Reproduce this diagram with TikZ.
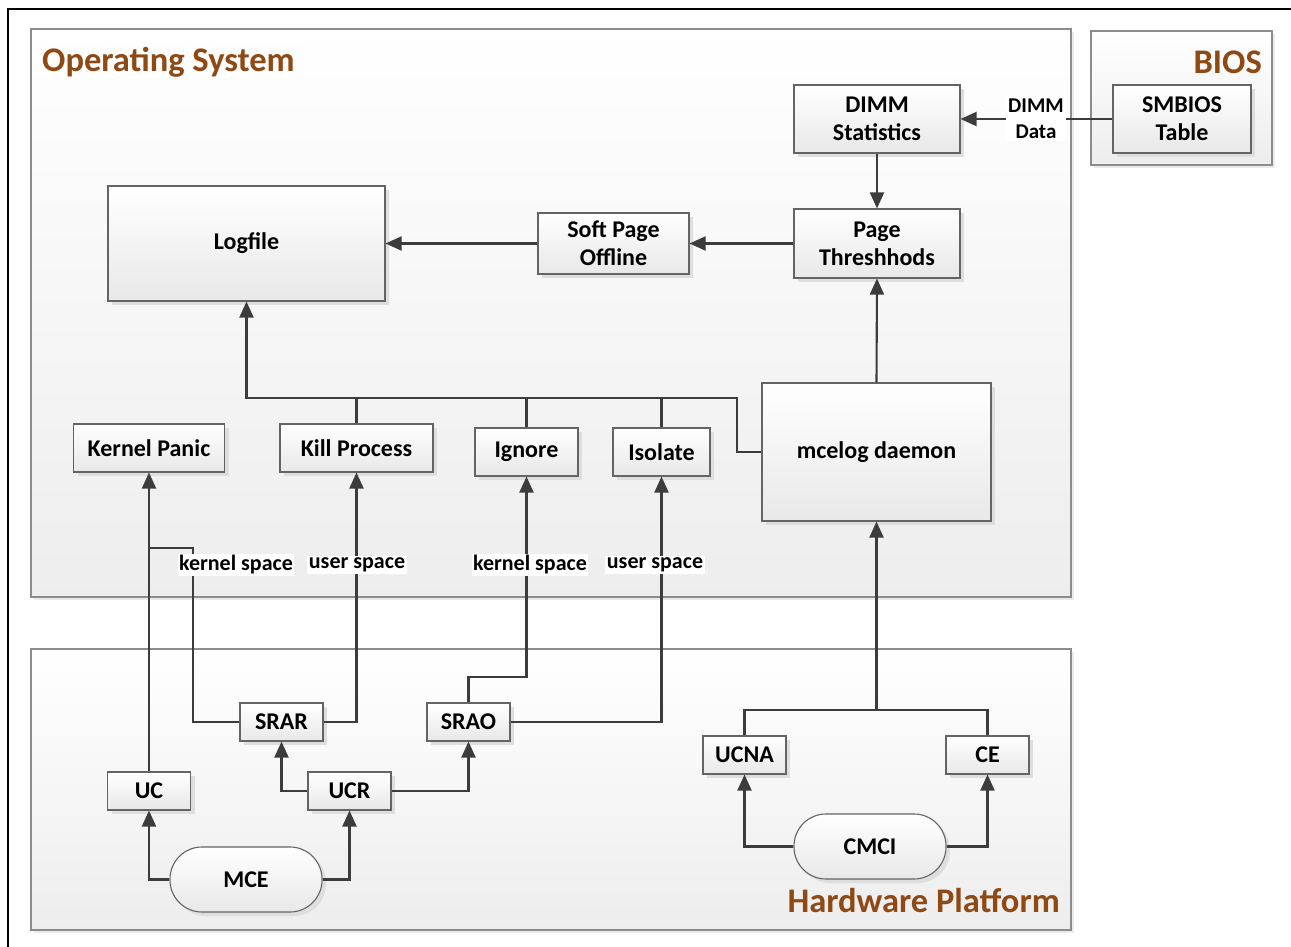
\documentclass[tikz,border=0pt]{standalone}
\usepackage{fontspec}
\setmainfont{Carlito}
\usetikzlibrary{arrows.meta,shadows}
\definecolor{ttl}{RGB}{143,73,20}
\definecolor{ln}{RGB}{60,60,60}
\definecolor{bd}{RGB}{100,100,100}
\definecolor{cbd}{RGB}{140,140,140}
\begin{document}
\begin{tikzpicture}[x=1pt,y=-1pt,
  box/.style={draw=bd, line width=1.1pt, top color=white, bottom color=black!9,
    inner sep=0pt, align=center, font=\fontsize{24}{28}\selectfont\bfseries,
    drop shadow={shadow xshift=4pt, shadow yshift=-4pt, fill=black!13, opacity=1}},
  pill/.style={box, rounded corners=32pt},
  container/.style={draw=cbd, line width=1.3pt, top color=white, bottom color=black!7,
    inner sep=0pt, drop shadow={shadow xshift=3pt, shadow yshift=-3pt, fill=black!8, opacity=1}},
  ttlfont/.style={text=ttl, font=\fontsize{34.5}{40}\selectfont\bfseries, inner sep=0pt},
  lbl/.style={fill=white, inner sep=1.5pt, font=\fontsize{22}{26}\selectfont\bfseries},
  dlbl/.style={fill=white, inner sep=2pt, align=center, font=\fontsize{21}{26}\selectfont\bfseries},
  conn/.style={draw=ln, line width=2.1pt},
  arr/.style={conn, -{Triangle[length=16pt,width=14pt]}},
]
\useasboundingbox (0,0) rectangle (1291,947);
\draw[black, line width=1.3pt] (8,947) -- (8,9) -- (1291,9);

% containers
\node[container, minimum width=1040, minimum height=568] (os) at (551,313) {};
\node[container, minimum width=181, minimum height=134] (bios) at (1181.5,98) {};
\node[container, minimum width=1040, minimum height=281] (hw) at (551,789.5) {};
\node[ttlfont, anchor=west] (ostitle) at (42,62) {Operating System};
\node[ttlfont, anchor=east] (biostitle) at (1262,62) {BIOS};
\node[ttlfont, anchor=east] (hwtitle) at (1060,901) {Hardware Platform};

% nodes
\node[box, minimum width=166, minimum height=68] (dimm) at (877,119) {DIMM\\Statistics};
\node[box, minimum width=138, minimum height=68] (smbios) at (1182,119) {SMBIOS\\Table};
\node[box, minimum width=166, minimum height=69] (page) at (877,243.5) {Page\\Threshhods};
\node[box, minimum width=151, minimum height=61] (soft) at (613.5,243.5) {Soft Page\\Offline};
\node[box, minimum width=277, minimum height=115] (logfile) at (246.5,243.5) {Logfile};
\node[box, minimum width=229, minimum height=138] (mcelog) at (876.5,452) {mcelog daemon};
\node[box, minimum width=151, minimum height=48] (kp) at (149,448) {Kernel Panic};
\node[box, minimum width=153, minimum height=48] (kill) at (356.5,448) {Kill Process};
\node[box, minimum width=103, minimum height=48] (ignore) at (526.5,452) {Ignore};
\node[box, minimum width=97, minimum height=48] (isolate) at (661.5,452) {Isolate};
\node[box, minimum width=83, minimum height=38] (srar) at (281.5,722) {SRAR};
\node[box, minimum width=83, minimum height=38] (srao) at (468.5,722) {SRAO};
\node[box, minimum width=83, minimum height=38] (uc) at (149,791) {UC};
\node[box, minimum width=83, minimum height=38] (ucr) at (349.5,791) {UCR};
\node[pill, minimum width=152, minimum height=65] (mce) at (246,879.5) {MCE};
\node[box, minimum width=83, minimum height=38] (ucna) at (744.5,755) {UCNA};
\node[box, minimum width=83, minimum height=38] (ce) at (987.5,755) {CE};
\node[pill, minimum width=152, minimum height=65] (cmci) at (870,846.5) {CMCI};

% junction coordinates
\coordinate (bus) at (737,398);
\coordinate (k1) at (193,548);
\coordinate (j1) at (149,548);
\coordinate (s1) at (526.5,677);
\coordinate (m1) at (876.5,710);

% connectors
\draw[arr] (smbios.west) -- (dimm.east);
\node[dlbl] (dimmdata) at (1036,119) {DIMM\\Data};
\draw[arr] (dimm.south) -- (page.north);
\draw[arr] (page.west) -- (soft.east);
\draw[arr] (soft.west) -- (logfile.east);
\draw[arr] (mcelog.north) -- (page.south);
\draw[arr] (mcelog.west) -| (bus) -| (logfile.south);
\draw[conn] (kill.north) -- (kill.north |- bus);
\draw[conn] (ignore.north) -- (ignore.north |- bus);
\draw[conn] (isolate.north) -- (isolate.north |- bus);

\draw[arr] (uc.north) -- (kp.south);
\draw[conn] (srar.west) -| (k1) -- (j1);
\draw[arr] (srar.east) -| (kill.south);
\draw[arr] (srao.north) |- (s1) -- (ignore.south);
\draw[arr] (srao.east) -| (isolate.south);
\draw[arr] (ucr.west) -| (srar.south);
\draw[arr] (ucr.east) -| (srao.south);
\draw[arr] (mce.west) -| (uc.south);
\draw[arr] (mce.east) -| (ucr.south);
\draw[arr] (cmci.west) -| (ucna.south);
\draw[arr] (cmci.east) -| (ce.south);
\draw[arr] (ucna.north) |- (m1) -- (mcelog.south);
\draw[conn] (ce.north) |- (m1);

% labels
\node[lbl] (ks1) at (236,565) {kernel space};
\node[lbl] (us1) at (357,565) {user space};
\node[lbl] (ks2) at (530,565) {kernel space};
\node[lbl] (us2) at (655,565) {user space};
\end{tikzpicture}
\end{document}
